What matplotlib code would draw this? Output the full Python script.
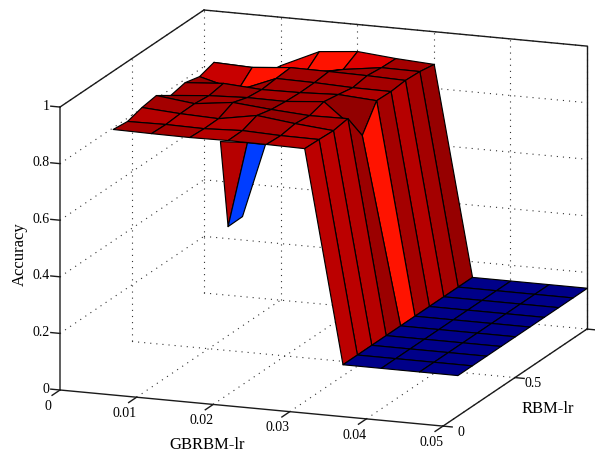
import matplotlib
matplotlib.use("Agg")
import matplotlib.pyplot as plt
from mpl_toolkits.mplot3d import proj3d
from mpl_toolkits.mplot3d.art3d import Poly3DCollection
from matplotlib.colors import Normalize

plt.rcParams['font.family'] = ['Liberation Serif', 'DejaVu Serif']

gbrbm_lr = [0.005, 0.01, 0.015, 0.02, 0.025, 0.03, 0.035, 0.04, 0.045, 0.05]
rbm_lr = [0.1, 0.2, 0.3, 0.4, 0.5, 0.6, 0.7, 0.8, 0.9, 1.0]

# accuracy: one row per rbm_lr, one column per gbrbm_lr
acc = [
    [.901, .899, .898, .900, .899, .897, .146, .146, .146, .146],
    [.895, .897, .895, .901, .896, .895, .146, .146, .146, .146],
    [.910, .901, .896, .920, .904, .892, .146, .146, .146, .146],
    [.918, .902, .919, .907, .898, .900, .146, .146, .146, .146],
    [.884, .896, .902, .901, .913, .806, .146, .146, .146, .146],
    [.895, .905, .896, .898, .904, .895, .146, .146, .146, .146],
    [.882, .846, .901, .899, .894, .893, .146, .146, .146, .146],
    [.898, .893, .905, .904, .902, .898, .146, .146, .146, .146],
    [.821, .809, .850, .877, .896, .895, .146, .146, .146, .146],
    [.751, .831, .893, .906, .894, .886, .146, .146, .146, .146],
]

# colour data of the facets
cdata_top = [
    [.904, .904, .892, .904, .892],
    [.892, .892, .892, .904, .892],
    [.904, .904, .904, .913, .900],
    [.916, .904, .916, .904, .892],
    [.900, .910, .900, .904, .916],
    [.913, .904, .904, .904, .896],
    [.879, .844, .904, .900, .904],
    [.904, .904, .904, .910, .904],
    [.880, .853, .844, .865, .904],
]
cdata_wall = [.890, .890, .892, .910, .844, .904, .892, .904, .913]
cdata_floor = .155
clim = (0.146, 0.93)

# the narrow spike under the front edge: (gbrbm_lr, rbm_lr, accuracy)
spike_red = [(.019, .1, .894), (.02, .1, .596), (.02253, .1, .899)]
spike_blue = [(.02253, .1, .899), (.02, .1, .596), (.02, .2, .597), (.023, .2, .859)]
spike_red_c, spike_blue_c = .892, .293

xticks = [0, 0.01, 0.02, 0.03, 0.04, 0.05]
xticklabels = ['0', '0.01', '0.02', '0.03', '0.04', '0.05']
yticks = [0, 0.5, 1]
yticklabels = ['0', '0.5']
zticks = [0, 0.2, 0.4, 0.6, 0.8, 1]
zticklabels = ['0', '0.2', '0.4', '0.6', '0.8', '1']
xmax, ymax, zmax = 0.05, 1, 1

W, H = 595, 452
fig = plt.figure(figsize=(W / 100, H / 100), dpi=100)
ax = fig.add_axes([0, 0, 1, 1], projection='3d', proj_type='ortho', computed_zorder=False)
ax.view_init(elev=14.6, azim=-69.5)
ax.set_box_aspect((408.9, 411, 292.4))
ax.set_xlim(0, xmax)
ax.set_ylim(0, ymax)
ax.set_zlim(0, zmax)
ax.set_axis_off()

# place the square 3-D axes so the box corners land where they belong
M = ax.get_proj()
def proj(p):
    u, v, _ = proj3d.proj_transform(p[0], p[1], p[2], M)
    return float(u), float(v)
u0, v0 = proj((0, 0, 0))
u1, v1 = proj((xmax, 0, 0))
vl = ax.viewLim
k = 383 / (u1 - u0)
S = k * (vl.x1 - vl.x0)
L = 60 - k * (u0 - vl.x0)
B = (H - 391) - k * (v0 - vl.y0)
ax.set_position([L / W, B / H, S / W, S / H])

cmap = plt.get_cmap('jet')
norm = Normalize(*clim)
order = [0]
def facet(verts, c, lw=0.85):
    order[0] += 1
    pc = Poly3DCollection([verts], facecolors=[cmap(norm(c))], edgecolors='k',
                          linewidths=lw, zorder=10 + order[0])
    ax.add_collection3d(pc)

# dotted grid
gk = dict(color='#333333', lw=0.8, linestyle=(0, (1, 4.5)), zorder=1)
for x in xticks[1:]:
    ax.plot([x, x], [0, ymax], [0, 0], **gk)
    ax.plot([x, x], [ymax, ymax], [0, zmax], **gk)
for y in yticks[1:]:
    ax.plot([0, xmax], [y, y], [0, 0], **gk)
    ax.plot([0, 0], [y, y], [0, zmax], **gk)
for z in zticks[1:]:
    ax.plot([0, 0], [0, ymax], [z, z], **gk)
    ax.plot([0, xmax], [ymax, ymax], [z, z], **gk)

# box lines
bk = dict(color='#1a1a1a', lw=1.0, zorder=2)
ax.plot([0, xmax], [0, 0], [0, 0], **bk)
ax.plot([xmax, xmax], [0, ymax], [0, 0], **bk)
ax.plot([0, 0], [0, 0], [0, zmax], color='#333333', lw=1.1, zorder=2)
ax.plot([0, 0], [0, ymax], [zmax, zmax], **bk)
ax.plot([0, xmax], [ymax, ymax], [zmax, zmax], **bk)
ax.plot([xmax, xmax], [ymax, ymax], [0, zmax], **bk)

# surface pieces, far rows first
facet(spike_red, spike_red_c)
facet(spike_blue, spike_blue_c)
nx, ny = len(gbrbm_lr), len(rbm_lr)
for j in range(ny - 2, -1, -1):
    for i in range(nx - 1):
        v = [(gbrbm_lr[i], rbm_lr[j], acc[j][i]),
             (gbrbm_lr[i + 1], rbm_lr[j], acc[j][i + 1]),
             (gbrbm_lr[i + 1], rbm_lr[j + 1], acc[j + 1][i + 1]),
             (gbrbm_lr[i], rbm_lr[j + 1], acc[j + 1][i])]
        if i < 5:
            c = cdata_top[j][i]
        elif i == 5:
            c = cdata_wall[j]
        else:
            c = cdata_floor
        facet(v, c)

# ticks
tick_len_x = 0.0012
tick_len_y = 0.055
for x, lab in zip(xticks, xticklabels):
    ax.plot([x, x], [0, -tick_len_y], [0, 0], **bk)
    ax.text(x, -0.083, -0.025, lab, ha='center', va='center', fontsize=10)
for y, lab in zip(yticks, yticklabels + ['']):
    ax.plot([xmax, xmax + tick_len_x], [y, y], [0, 0], **bk)
    if lab:
        ax.text(xmax + 0.0024, y, -0.012, lab, ha='center', va='center', fontsize=10)
for z, lab in zip(zticks, zticklabels):
    ax.plot([0, -tick_len_x], [0, 0], [z, z], **bk)
    ax.text(-0.0014, 0, z + 0.003, lab, ha='right', va='center', fontsize=10)

fig.text(207 / W, 1 - 445 / H, 'GBRBM-lr', ha='center', va='center', fontsize=12)
fig.text(548 / W, 1 - 409 / H, 'RBM-lr', ha='center', va='center', fontsize=12)
fig.text(20 / W, 1 - 254 / H, 'Accuracy', ha='center', va='center', rotation=90, fontsize=12)

fig.savefig('out.png', dpi=100)
